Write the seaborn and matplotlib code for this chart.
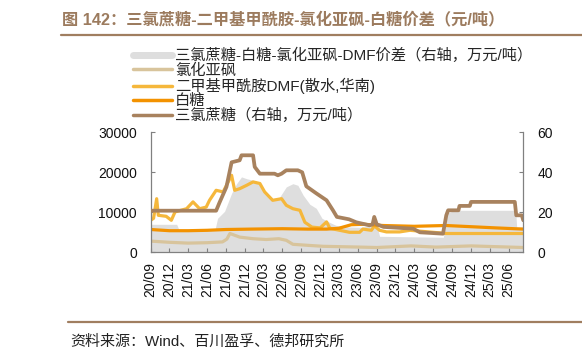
import pandas as pd
import numpy as np
import matplotlib
matplotlib.use('Agg')
import matplotlib.pyplot as plt
import matplotlib.dates as mdates
from matplotlib.lines import Line2D
import seaborn as sns

## values

# spread sucralose - sugar - thionyl chloride - DMF (right axis, 10k yuan/t)
spread_dates = ['2020-09-01', '2021-01-05', '2021-01-15', '2021-07-10', '2021-07-22', '2021-08-25',
                '2021-09-28', '2021-10-22', '2021-11-15', '2021-12-10', '2022-01-10', '2022-02-12',
                '2022-03-15', '2022-04-15', '2022-05-18', '2022-06-20', '2022-07-22', '2022-08-15',
                '2022-09-10', '2022-10-12', '2022-11-12', '2022-12-10', '2023-01-15', '2023-02-15',
                '2023-04-15', '2023-06-15', '2023-08-10', '2023-08-20', '2023-09-05', '2023-09-15',
                '2024-07-20', '2024-08-03', '2024-09-15', '2025-07-05', '2025-07-10', '2025-08-11']
spread = [14, 14, 11.5, 11.5, 17, 20.5, 29.5, 34.3, 37.7, 36.8, 36, 33.5,
          29.3, 26, 27.5, 32.7, 34.3, 33.5, 28.5, 24, 22, 17, 15, 13.5,
          12.7, 12.5, 13.5, 15, 12, 8, 7.5, 19.5, 21, 21, 12.7, 12.7]

# thionyl chloride (yuan/t)
thio_dates = ['2020-09-01', '2020-12-01', '2021-03-01', '2021-06-01', '2021-08-15', '2021-09-05',
              '2021-09-20', '2021-11-06', '2022-01-10', '2022-03-15', '2022-05-15', '2022-06-20',
              '2022-07-22', '2022-10-15', '2022-12-15', '2023-06-15', '2023-09-01', '2024-02-15',
              '2024-06-15', '2024-12-01', '2025-08-11']
thio = [2800, 2500, 2300, 2400, 2600, 3300, 4700, 3800, 3400, 3200, 3400, 3000,
        2000, 1700, 1500, 1300, 1200, 1600, 1300, 1600, 1200]

# DMF, bulk water, south china (yuan/t)
dmf_dates = ['2020-09-01', '2020-09-15', '2020-09-30', '2020-10-08', '2020-11-15', '2020-12-10',
             '2020-12-28', '2021-02-22', '2021-03-25', '2021-04-26', '2021-05-28', '2021-06-13',
             '2021-07-15', '2021-08-18', '2021-09-28', '2021-10-13', '2021-11-06', '2021-12-10',
             '2022-01-10', '2022-02-12', '2022-03-07', '2022-04-15', '2022-05-28', '2022-06-20',
             '2022-07-22', '2022-08-25', '2022-09-18', '2022-10-22', '2022-12-01', '2023-01-01',
             '2023-01-17', '2023-04-22', '2023-06-10', '2023-06-26', '2023-08-06', '2023-08-21',
             '2023-09-15', '2023-10-18', '2023-12-21', '2024-02-09', '2024-07-15', '2024-08-03',
             '2025-08-11']
dmf = [8000, 8500, 13400, 9250, 9000, 8000, 10100, 10900, 12600, 10900, 11300, 13000,
       15500, 15100, 19250, 15500, 15900, 16750, 17600, 17200, 15100, 13000, 13400, 11750,
       10900, 10500, 7500, 6300, 6100, 7600, 6000, 5000, 5000, 5800, 5500, 6600,
       5500, 5100, 5100, 5500, 4800, 4700, 4700]

# white sugar (yuan/t)
sugar_dates = ['2020-09-01', '2020-12-01', '2021-03-01', '2021-06-01', '2021-09-01', '2022-01-01',
               '2022-06-01', '2022-10-01', '2023-01-01', '2023-03-01', '2023-05-01', '2023-07-01',
               '2023-10-01', '2024-03-01', '2024-08-01', '2024-12-01', '2025-04-01', '2025-08-11']
sugar = [5700, 5400, 5400, 5500, 5700, 5800, 5900, 5800, 5800, 6000, 6900, 7000,
         6700, 6500, 6700, 6400, 6100, 5800]

# sucralose (right axis, 10k yuan/t)
suc_dates = ['2020-09-01', '2021-07-15', '2021-08-01', '2021-09-03', '2021-09-28', '2021-11-06',
             '2021-11-15', '2022-01-10', '2022-01-18', '2022-02-12', '2022-04-24', '2022-05-10',
             '2022-05-28', '2022-06-20', '2022-08-15', '2022-09-05', '2022-09-25', '2022-11-12',
             '2023-01-01', '2023-02-01', '2023-02-20', '2023-04-20', '2023-05-25', '2023-07-28',
             '2023-08-12', '2023-08-20', '2023-09-01', '2023-10-04', '2024-02-25', '2024-03-28',
             '2024-07-18', '2024-08-03', '2024-08-12', '2024-10-01', '2024-10-06', '2024-11-25',
             '2024-12-01', '2025-07-01', '2025-07-08', '2025-08-04', '2025-08-11']
suc = [20.8, 20.8, 25, 32.7, 45, 46, 48.5, 48.5, 42.7, 39.3, 39.3, 38.5,
       39.3, 41, 41, 40, 33, 29.5, 26, 21, 17.7, 16.5, 15, 13.5,
       14, 17.7, 14, 12.7, 11.8, 10, 9.3, 18.5, 21, 21, 23.2, 23.2,
       25.2, 25.2, 18.5, 18.5, 16]

labels = ['三氯蔗糖-白糖-氯化亚砜-DMF价差（右轴，万元/吨）', '氯化亚砜',
          '二甲基甲酰胺DMF(散水,华南)', '白糖', '三氯蔗糖（右轴，万元/吨）']
colors = ['#DEDEDE', '#D8C49C', '#F5B73B', '#F39200', '#A8825E']

sns.set_style('ticks')
plt.rcParams['font.family'] = ['Liberation Sans', 'Noto Sans CJK SC']
plt.rcParams['axes.unicode_minus'] = False

def frame(d, v):
    return pd.DataFrame({'date': pd.to_datetime(d), 'value': v})

fig = plt.figure(figsize=(5.82, 3.59), dpi=100)
ax = fig.add_axes([0.2589, 0.2972, 0.6402, 0.3343])
ax2 = ax.twinx()   # right axis: sucralose line on top
ax.set_zorder(1)
ax2.set_zorder(2)
ax.patch.set_visible(False)
ax2.patch.set_visible(False)

xmin, xmax = pd.Timestamp('2020-09-01'), pd.Timestamp('2025-08-11')
ax.set_ylim(0, 30000)
ax2.set_ylim(0, 60)

# spread area lives on the left axes (so it sits under the left lines)
# but uses the right axis scale
sp = frame(spread_dates, spread)
ax.fill_between(sp['date'], 0, sp['value'], color=colors[0], lw=0, zorder=0,
                transform=ax2.transData)

lw = 2.3
sns.lineplot(data=frame(thio_dates, thio), x='date', y='value', ax=ax, color=colors[1], lw=lw)
sns.lineplot(data=frame(dmf_dates, dmf), x='date', y='value', ax=ax, color=colors[2], lw=lw)
sns.lineplot(data=frame(sugar_dates, sugar), x='date', y='value', ax=ax, color=colors[3], lw=lw)
sns.lineplot(data=frame(suc_dates, suc), x='date', y='value', ax=ax2, color=colors[4], lw=lw + 0.4)

for a in (ax, ax2):
    a.set_xlim(xmin, xmax)
    a.set_xlabel('')
    a.set_ylabel('')
ax.set_ylim(0, 30000)
ax.set_yticks([0, 10000, 20000, 30000])
ax2.set_ylim(0, 60)
ax2.set_yticks([0, 20, 40, 60])

ax.xaxis.set_major_locator(mdates.MonthLocator(bymonth=[3, 6, 9, 12]))
ax.xaxis.set_major_formatter(mdates.DateFormatter('%y/%m'))
ax.tick_params(axis='x', rotation=90, direction='in', length=3, pad=7,
               labelsize=10, color='#808080', labelcolor='#111111')
ax.tick_params(axis='y', direction='in', length=3, pad=10,
               labelsize=10, color='#808080', labelcolor='#111111')
ax2.tick_params(axis='y', direction='in', length=3, pad=10,
                labelsize=10, color='#808080', labelcolor='#111111')

for a in (ax, ax2):
    a.spines['top'].set_visible(False)
    for s in ('left', 'right', 'bottom'):
        a.spines[s].set_color('#808080')
        a.spines[s].set_linewidth(0.9)
ax.spines['right'].set_visible(False)
ax2.spines['left'].set_visible(False)
ax2.spines['bottom'].set_visible(False)

handles = [Line2D([], [], color=colors[0], lw=5)] + \
          [Line2D([], [], color=c, lw=2.5) for c in colors[1:]]
fig.legend(handles, labels, loc='upper left', bbox_to_anchor=(0.2285, 0.866),
           frameon=False, fontsize=11, handlelength=2.55, handletextpad=0.2,
           labelspacing=0.0, borderpad=0, borderaxespad=0)

# title, rules and source
fig.text(0.1065, 0.946, '图 142：三氯蔗糖-二甲基甲酰胺-氯化亚砜-白糖价差（元/吨）',
         fontsize=11.7, fontweight='bold', color='#9C7B5E', va='center', ha='left')
fig.add_artist(Line2D([0.105, 1.0], [0.9025, 0.9025], color='#A07E60', lw=1.6))
fig.add_artist(Line2D([0.117, 1.0], [0.104, 0.104], color='#A07E60', lw=1.6))
fig.text(0.12, 0.048, '资料来源：Wind、百川盈孚、德邦研究所', fontsize=10.8,
         color='#222222', va='center', ha='left')

fig.savefig('out.png', dpi=100)
